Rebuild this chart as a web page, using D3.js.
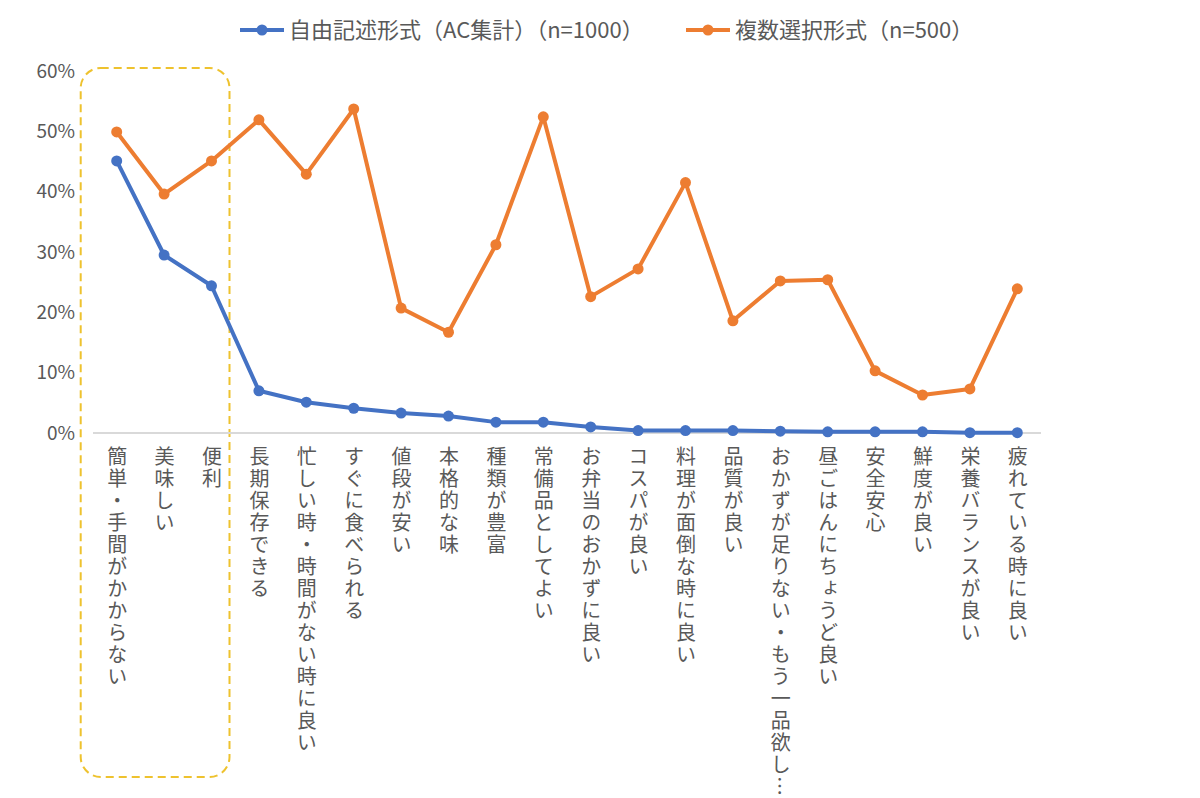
<!DOCTYPE html>
<html>
<head>
<meta charset="utf-8">
<script src="https://cdn.jsdelivr.net/npm/d3@7"></script>
<style>
  body { margin: 0; background: #fff; }
  #chart { position: relative; width: 1200px; height: 798px; overflow: hidden;
           font-family: "Noto Sans CJK JP", "Noto Sans", sans-serif; }
  svg { display: block; position: absolute; left: 0; top: 0; }
  .tick text { fill: #595959; font-size: 19px; font-family: "Noto Sans CJK JP", sans-serif; }
  .x-label { position: absolute; color: #595959; font-size: 20px; line-height: 24px;
             letter-spacing: 2px; writing-mode: vertical-rl; white-space: nowrap; }
  .legend-text { fill: #595959; font-size: 22px; font-family: "Noto Sans CJK JP", sans-serif; }
</style>
</head>
<body>
<div id="chart"><svg width="1200" height="798"></svg></div>
<script>
const categories = [
  '簡単・手間がかからない', '美味しい', '便利', '長期保存できる', '忙しい時・時間がない時に良い',
  'すぐに食べられる', '値段が安い', '本格的な味', '種類が豊富', '常備品としてよい',
  'お弁当のおかずに良い', 'コスパが良い', '料理が面倒な時に良い', '品質が良い',
  'おかずが足りない・もう一品欲し…', '昼ごはんにちょうど良い', '安全安心', '鮮度が良い',
  '栄養バランスが良い', '疲れている時に良い'
];
const freeText = [45.1, 29.5, 24.4, 7.0, 5.1, 4.1, 3.3, 2.8, 1.8, 1.8,
                  1.0, 0.4, 0.4, 0.4, 0.3, 0.2, 0.2, 0.2, 0.05, 0.05];
const multiChoice = [49.9, 39.6, 45.1, 51.9, 42.9, 53.7, 20.7, 16.7, 31.2, 52.4,
                     22.6, 27.2, 41.5, 18.6, 25.2, 25.4, 10.3, 6.3, 7.3, 23.9];
const seriesNames = ['自由記述形式（AC集計）（n=1000）', '複数選択形式（n=500）'];
const yTicks = [0, 10, 20, 30, 40, 50, 60];

const svg = d3.select('svg');
const margin = {top: 71, left: 93, right: 159, bottom: 365};
const width = +svg.attr('width');
const height = +svg.attr('height');
const innerWidth = width - margin.left - margin.right;
const innerHeight = height - margin.top - margin.bottom;

const colors = ['#4472C4', '#ED7D31'];

const xScale = d3.scalePoint()
  .domain(categories)
  .range([0, innerWidth])
  .padding(0.5);

const yScale = d3.scaleLinear()
  .domain([0, 60])
  .range([innerHeight, 0]);

const g = svg.append('g')
  .attr('transform', `translate(${margin.left}, ${margin.top})`);

// highlight box around the top three
const boxX0 = xScale(categories[0]) - 36;
const boxX1 = xScale(categories[2]) + 18;
g.append('rect')
  .attr('x', boxX0)
  .attr('y', -3)
  .attr('width', boxX1 - boxX0)
  .attr('height', 709)
  .attr('rx', 20)
  .attr('fill', 'none')
  .attr('stroke', '#EEC22E')
  .attr('stroke-width', 2)
  .attr('stroke-dasharray', '8,5');

// y axis
const yAxis = d3.axisLeft(yScale)
  .tickValues(yTicks)
  .tickSize(0)
  .tickPadding(18)
  .tickFormat(d => d + '%');
const yAxisG = g.append('g').call(yAxis);
yAxisG.select('.domain').remove();

// baseline
g.append('line')
  .attr('x1', 0)
  .attr('x2', innerWidth)
  .attr('y1', yScale(0))
  .attr('y2', yScale(0))
  .attr('stroke', '#d9d9d9')
  .attr('stroke-width', 2);

// x labels in vertical writing mode
d3.select('#chart').selectAll('.x-label')
  .data(categories)
  .enter().append('div')
  .attr('class', 'x-label')
  .style('left', d => (margin.left + xScale(d) - 12) + 'px')
  .style('top', (margin.top + innerHeight + 13) + 'px')
  .text(d => d);

const lineGen = d3.line()
  .x((d, i) => xScale(categories[i]))
  .y(d => yScale(d));

[multiChoice, freeText].forEach(values => {
  const color = values === freeText ? colors[0] : colors[1];
  g.append('path')
    .attr('d', lineGen(values))
    .attr('fill', 'none')
    .attr('stroke', color)
    .attr('stroke-width', 4)
    .attr('stroke-linejoin', 'round');
  g.selectAll(null)
    .data(values)
    .enter().append('circle')
    .attr('cx', (d, i) => xScale(categories[i]))
    .attr('cy', d => yScale(d))
    .attr('r', 5.5)
    .attr('fill', color);
});

// legend
const legendX = [240, 686];
seriesNames.forEach((name, i) => {
  const lg = svg.append('g').attr('transform', `translate(${legendX[i]}, 30)`);
  lg.append('line')
    .attr('x1', 0).attr('x2', 44)
    .attr('stroke', colors[i])
    .attr('stroke-width', 4);
  lg.append('circle')
    .attr('cx', 22)
    .attr('r', 5.5)
    .attr('fill', colors[i]);
  lg.append('text')
    .attr('class', 'legend-text')
    .attr('x', 49)
    .attr('dy', '0.35em')
    .text(name);
});
</script>
</body>
</html>
